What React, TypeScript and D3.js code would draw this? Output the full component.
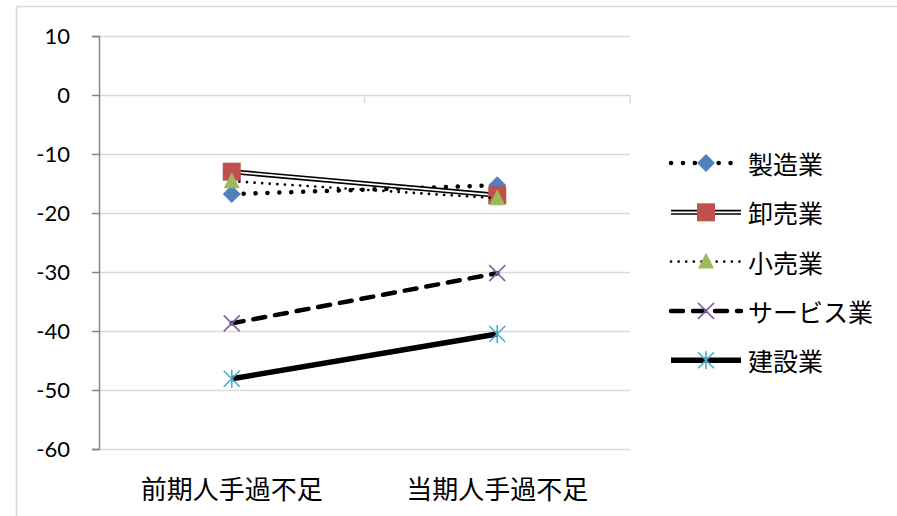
import React, { useRef, useEffect } from "react";
import * as d3 from "d3";

const categories = ["前期人手過不足", "当期人手過不足"];
const seriesNames = ["製造業", "卸売業", "小売業", "サービス業", "建設業"];
const seizo = [-16.8, -15.3];
const oroshi = [-13.0, -17.0];
const kouri = [-14.6, -17.5];
const service = [-38.7, -30.2];
const kensetsu = [-48.1, -40.5];
const yTicks = [10, 0, -10, -20, -30, -40, -50, -60];

const colors = ["#4F81BD", "#C0504D", "#9BBB59", "#8064A2", "#4BACC6"];

const App = () => {
  const ref = useRef<SVGSVGElement>(null);

  useEffect(() => {
    if (!ref.current) return;
    const svg = d3.select(ref.current);
    svg.selectAll("*").remove();

    const left = 99, right = 630, top = 36, bottom = 449;
    const x = d3.scalePoint<string>().domain(categories).range([left, right]).padding(0.5);
    const y = d3.scaleLinear().domain([-60, 10]).range([bottom, top]);

    // chart border
    svg.append("path")
      .attr("d", "M16.5,520 V6.5 H900")
      .attr("fill", "none")
      .attr("stroke", "#d9d9d9")
      .attr("stroke-width", 1.5);

    // gridlines
    svg.append("g")
      .selectAll("line")
      .data(yTicks)
      .join("line")
      .attr("x1", left)
      .attr("x2", right)
      .attr("y1", (d) => y(d) + 0.5)
      .attr("y2", (d) => y(d) + 0.5)
      .attr("stroke", "#d9d9d9")
      .attr("stroke-width", 1.5);

    // category axis at 0 with tick marks
    const step = x.step();
    svg.append("g")
      .selectAll("line")
      .data([1, 2])
      .join("line")
      .attr("x1", (d) => left + d * step)
      .attr("x2", (d) => left + d * step)
      .attr("y1", y(0))
      .attr("y2", y(0) + 8)
      .attr("stroke", "#d9d9d9")
      .attr("stroke-width", 1.5);

    // y axis
    const yAxis = svg.append("g")
      .attr("transform", `translate(${left},0)`)
      .call(d3.axisLeft(y).tickValues(yTicks).tickSize(7).tickPadding(22).tickFormat((d) => String(d)));
    yAxis.select(".domain").attr("stroke", "#868686").attr("stroke-width", 1.5);
    yAxis.selectAll(".tick line").attr("stroke", "#868686").attr("stroke-width", 1.5);
    yAxis.selectAll("text")
      .attr("font-family", "Lato, 'Noto Sans', sans-serif")
      .attr("font-size", 22)
      .attr("fill", "#000");

    // category labels
    svg.append("g")
      .selectAll("text")
      .data(categories)
      .join("text")
      .attr("x", (d) => x(d)!)
      .attr("y", 487)
      .attr("text-anchor", "middle")
      .attr("dominant-baseline", "central")
      .attr("font-family", "'Noto Sans CJK JP', sans-serif")
      .attr("font-size", 26)
      .attr("fill", "#000")
      .text((d) => d);

    const data = [seizo, oroshi, kouri, service, kensetsu];

    const drawLine = (g: any, pts: [number, number][], k: number) => {
      const path = d3.line()(pts);
      if (k === 0) {
        g.append("path").attr("d", path).attr("stroke", "#000").attr("stroke-width", 4.5)
          .attr("stroke-dasharray", "0.1 11.8").attr("stroke-linecap", "round").attr("fill", "none");
      } else if (k === 1) {
        g.append("path").attr("d", path).attr("stroke", "#000").attr("stroke-width", 5).attr("fill", "none");
        g.append("path").attr("d", path).attr("stroke", "#fff").attr("stroke-width", 1.8).attr("fill", "none");
      } else if (k === 2) {
        g.append("path").attr("d", path).attr("stroke", "#000").attr("stroke-width", 2.6)
          .attr("stroke-dasharray", "0.1 7.5").attr("stroke-linecap", "round").attr("fill", "none");
      } else if (k === 3) {
        g.append("path").attr("d", path).attr("stroke", "#000").attr("stroke-width", 4.5)
          .attr("stroke-dasharray", "12 10").attr("stroke-linecap", "round").attr("fill", "none");
      } else {
        g.append("path").attr("d", path).attr("stroke", "#000").attr("stroke-width", 5.5).attr("fill", "none");
      }
    };

    const drawMarker = (g: any, cx: number, cy: number, k: number) => {
      const c = colors[k];
      if (k === 0) {
        g.append("path").attr("d", `M${cx},${cy - 9} L${cx + 9},${cy} L${cx},${cy + 9} L${cx - 9},${cy} Z`).attr("fill", c);
      } else if (k === 1) {
        g.append("rect").attr("x", cx - 9).attr("y", cy - 9).attr("width", 18).attr("height", 18).attr("fill", c);
      } else if (k === 2) {
        g.append("path").attr("d", `M${cx},${cy - 9} L${cx + 8},${cy + 7} L${cx - 8},${cy + 7} Z`).attr("fill", c);
      } else if (k === 3) {
        const r = 8;
        g.append("path").attr("d", `M${cx - r},${cy - r} L${cx + r},${cy + r} M${cx + r},${cy - r} L${cx - r},${cy + r}`)
          .attr("stroke", c).attr("stroke-width", 1.6);
      } else {
        const r = 8;
        g.append("path").attr("d", `M${cx - r},${cy - r} L${cx + r},${cy + r} M${cx + r},${cy - r} L${cx - r},${cy + r} M${cx},${cy - r - 1} L${cx},${cy + r + 1}`)
          .attr("stroke", c).attr("stroke-width", 1.6);
      }
    };

    data.forEach((vals, k) => {
      const g = svg.append("g");
      const pts = vals.map((v, i) => [x(categories[i])!, y(v)] as [number, number]);
      drawLine(g, pts, k);
      pts.forEach(([cx, cy]) => drawMarker(g, cx, cy, k));
    });

    // legend
    seriesNames.forEach((name, k) => {
      const ly = 163 + k * 49.3;
      const g = svg.append("g");
      drawLine(g, [[671, ly], [741, ly]], k);
      drawMarker(g, 706, ly, k);
      g.append("text")
        .attr("x", 748)
        .attr("y", ly)
        .attr("dominant-baseline", "central")
        .attr("font-family", "'Noto Sans CJK JP', sans-serif")
        .attr("font-size", 25)
        .attr("fill", "#000")
        .text(name);
    });
  }, []);

  return (
    <svg ref={ref} width={897} height={516} style={{ position: "absolute", left: 0, top: 0, background: "#fff" }} />
  );
};

export default App;
